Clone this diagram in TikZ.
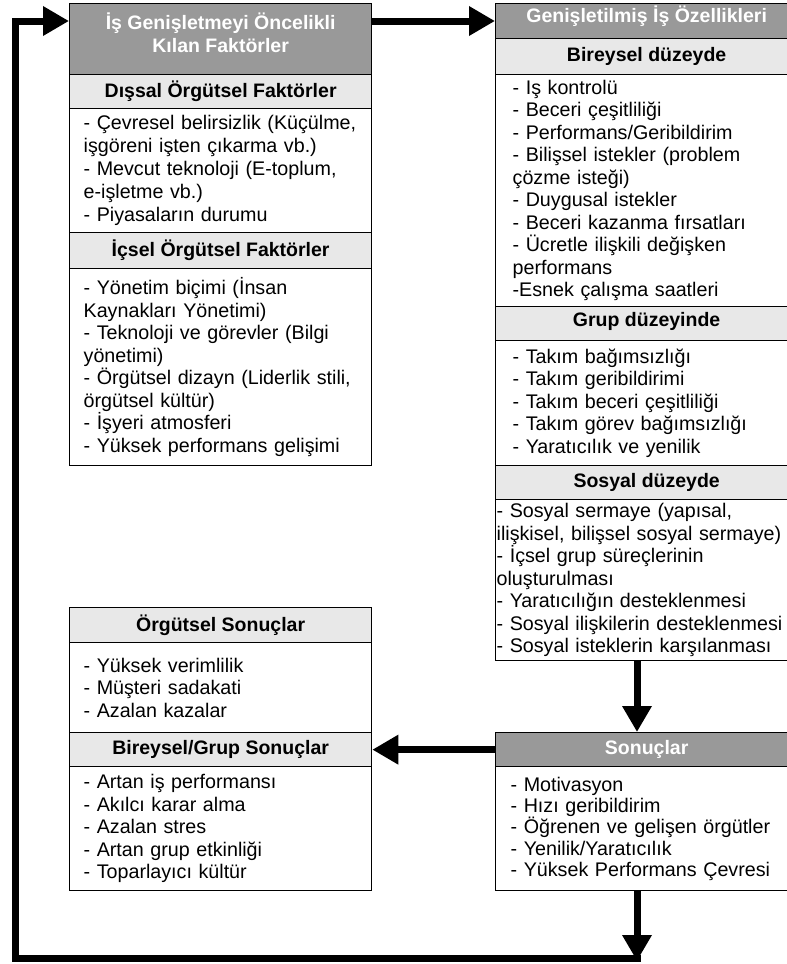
\documentclass[tikz,border=0pt]{standalone}
\usepackage{fontspec}
\setmainfont{Liberation Sans}
\usetikzlibrary{arrows.meta}
\definecolor{titlegray}{HTML}{999999}
\definecolor{headgray}{HTML}{E8E8E8}
\begin{document}
\begin{tikzpicture}[x=1pt,y=-1pt,
  box/.style={draw=black, line width=1.3pt, minimum width=302pt, inner sep=0pt,
    anchor=north west, font=\fontsize{19.7}{22.5}\selectfont},
  titlebox/.style={box, fill=titlegray, text=white, align=center,
    font=\bfseries\fontsize{19.5}{23}\selectfont},
  headbox/.style={box, fill=headgray, font=\bfseries\fontsize{19.5}{23}\selectfont},
  listbox/.style={box, fill=white, align=left},
  arr/.style={line width=7pt, line join=miter, -{Triangle[length=26pt,width=28pt]}},
  ]
\useasboundingbox (0,0) rectangle (787,964);
\clip (0,0) rectangle (787,964);

% left column, top
\node[titlebox, minimum height=71pt, text depth=14pt] (lt) at (69,3) {İş Genişletmeyi Öncelikli\\Kılan Faktörler};
\node[headbox, minimum height=34pt] (ldh) at (69,74) {Dışsal Örgütsel Faktörler};
\node[listbox, minimum height=124pt, inner xsep=14pt, text width=274pt] (ldc) at (69,108)
  {- Çevresel belirsizlik (Küçülme,\\işgöreni işten çıkarma vb.)\\[1pt]- Mevcut teknoloji (E-toplum,\\e-işletme vb.)\\[1pt]- Piyasaların durumu};
\node[headbox, minimum height=36pt] (lih) at (69,232) {İçsel Örgütsel Faktörler};
\node[listbox, minimum height=197pt, inner xsep=14pt, text width=274pt] (lic) at (69,268)
  {- Yönetim biçimi (İnsan\\Kaynakları Yönetimi)\\- Teknoloji ve görevler (Bilgi\\yönetimi)\\- Örgütsel dizayn (Liderlik stili,\\örgütsel kültür)\\- İşyeri atmosferi\\- Yüksek performans gelişimi};

% right column, top
\node[titlebox, minimum height=35pt, text depth=14pt] (rt) at (495,3) {Genişletilmiş İş Özellikleri};
\node[headbox, minimum height=36pt] (rbh) at (495,38) {Bireysel düzeyde};
\node[listbox, minimum height=232pt, inner xsep=17pt, text width=268pt] (rbc) at (495,74)
  {- Iş kontrolü\\- Beceri çeşitliliği\\- Performans/Geribildirim\\- Bilişsel istekler (problem\\çözme isteği)\\- Duygusal istekler\\- Beceri kazanma fırsatları\\- Ücretle ilişkili değişken\\performans\\-Esnek çalışma saatleri};
\node[headbox, minimum height=34pt, text depth=8pt] (rgh) at (495,306) {Grup düzeyinde};
\node[listbox, minimum height=125pt, inner xsep=17pt, text width=268pt] (rgc) at (495,340)
  {- Takım bağımsızlığı\\- Takım geribildirimi\\- Takım beceri çeşitliliği\\- Takım görev bağımsızlığı\\- Yaratıcılık ve yenilik};
\node[headbox, minimum height=34pt] (rsh) at (495,465) {Sosyal düzeyde};
\node[listbox, minimum height=161pt, inner xsep=1pt, text width=300pt] (rsc) at (495,499)
  {- Sosyal sermaye (yapısal,\\ilişkisel, bilişsel sosyal sermaye)\\- İçsel grup süreçlerinin\\oluşturulması\\- Yaratıcılığın desteklenmesi\\- Sosyal ilişkilerin desteklenmesi\\- Sosyal isteklerin karşılanması};

% results (right)
\node[titlebox, minimum height=34pt] (sot) at (495,732) {Sonuçlar};
\node[listbox, minimum height=124pt, inner xsep=15pt, text width=272pt,
  font=\fontsize{19.7}{21.3}\selectfont] (soc) at (495,766)
  {- Motivasyon\\- Hızı geribildirim\\- Öğrenen ve gelişen örgütler\\- Yenilik/Yaratıcılık\\- Yüksek Performans Çevresi};

% results (left)
\node[headbox, minimum height=35pt] (loh) at (69,607) {Örgütsel Sonuçlar};
\node[listbox, minimum height=90pt, inner xsep=14pt, text width=274pt] (loc) at (69,642)
  {- Yüksek verimlilik\\- Müşteri sadakati\\- Azalan kazalar};
\node[headbox, minimum height=34pt] (lgh) at (69,732) {Bireysel/Grup Sonuçlar};
\node[listbox, minimum height=124pt, inner xsep=14pt, text width=274pt] (lgc) at (69,766)
  {- Artan iş performansı\\- Akılcı karar alma\\- Azalan stres\\- Artan grup etkinliği\\- Toparlayıcı kültür};

% connectors
\coordinate (ytop) at (0,21);
\coordinate (xr) at (637,0);
\coordinate (cb) at (637,958);
\coordinate (cl) at (15,958);
\draw[arr] (lt.east |- ytop) -- (rt.west |- ytop);
\draw[arr] (rsc.south -| xr) -- (sot.north -| xr);
\draw[arr] (sot.west) -- (lgh.east);
\draw[arr] (soc.south -| xr) -- ([yshift=-3pt]cb);
\draw[arr] ([xshift=3.5pt]cb) -- (cl) -- (cl |- ytop) -- (lt.west |- ytop);
\end{tikzpicture}
\end{document}
